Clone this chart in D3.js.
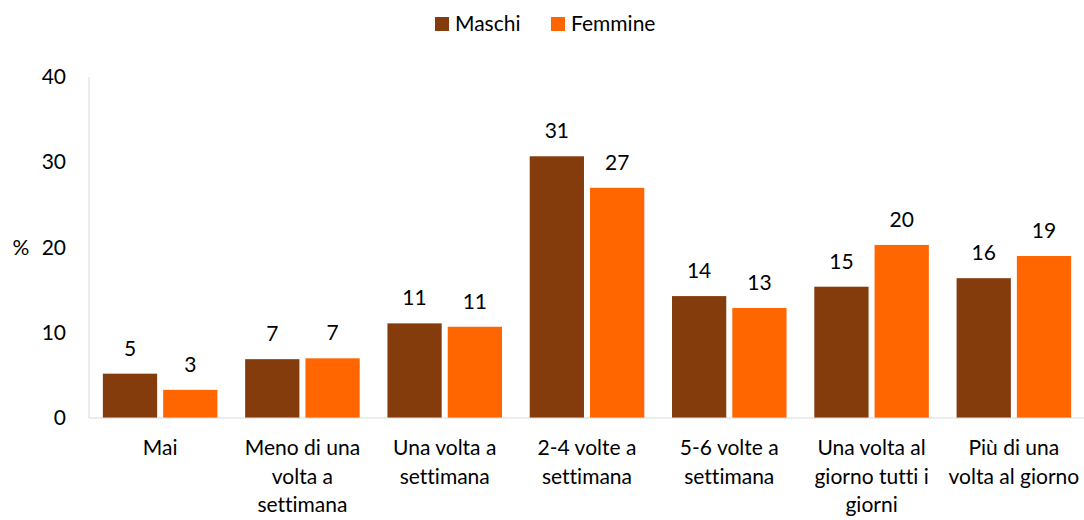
<!DOCTYPE html>
<html>
<head>
<meta charset="utf-8">
<script src="https://cdn.jsdelivr.net/npm/d3@7"></script>
<style>
body { margin: 0; background: #fff; }
text { font-family: Lato, "Open Sans", sans-serif; fill: #000; font-variant-ligatures: none; }
</style>
</head>
<body>
<div id="canvas"></div>
<script>

var categories = ["Mai",
                  "Meno di una\nvolta a\nsettimana",
                  "Una volta a\nsettimana",
                  "2-4 volte a\nsettimana",
                  "5-6 volte a\nsettimana",
                  "Una volta al\ngiorno tutti i\ngiorni",
                  "Più di una\nvolta al giorno"];
var series = ["Maschi", "Femmine"];
var maschi  = [5.2, 6.9, 11.1, 30.7, 14.3, 15.4, 16.4];
var femmine = [3.3, 7.0, 10.7, 27.0, 12.9, 20.3, 19.0];
var yTicks = [0, 10, 20, 30, 40];
var colors = ["#843c0c", "#ff6600"];

var width = 1084, height = 520;
var mLeft = 89, mRight = 1085, mTop = 77, mBottom = 418;
var fs = "21px";

var svg = d3.select("#canvas")
            .append("svg")
            .attr("width", width)
            .attr("height", height);

var x = d3.scaleBand().domain(categories).range([mLeft, mRight]);
var xs = d3.scaleBand().domain(series).range([0, x.bandwidth()])
           .paddingInner(0.1).paddingOuter(0.23);
var y = d3.scaleLinear().domain([0, 40]).range([mBottom, mTop]);

// axes lines
svg.append("line")
   .attr("x1", mLeft).attr("x2", mLeft)
   .attr("y1", y(40)).attr("y2", y(0))
   .style("stroke", "#d9d9d9").style("stroke-width", 1);

var yaxis = svg.append("g")
   .attr("transform", "translate(" + mLeft + ",0)")
   .call(d3.axisLeft(y).tickValues(yTicks).tickSize(0).tickPadding(23));
yaxis.select(".domain").remove();
yaxis.selectAll("text")
     .style("font-family", "Lato, sans-serif")
     .style("font-size", fs)
     .attr("fill", "#000");

svg.append("text")
   .attr("x", 21).attr("y", y(20))
   .attr("dy", "0.35em")
   .attr("text-anchor", "middle")
   .style("font-size", fs)
   .text("%");

var data = categories.map(function(c, i) {
   return [ {cat: c, s: series[0], v: maschi[i]},
            {cat: c, s: series[1], v: femmine[i]} ];
});

var groups = svg.selectAll("g.grp")
   .data(data)
   .enter()
   .append("g")
   .attr("class", "grp")
   .attr("transform", function(d) { return "translate(" + x(d[0].cat) + ",0)"; });

groups.selectAll("rect")
   .data(function(d) { return d; })
   .enter()
   .append("rect")
   .attr("x", function(d) { return xs(d.s); })
   .attr("width", xs.bandwidth())
   .attr("y", function(d) { return y(d.v); })
   .attr("height", function(d) { return y(0) - y(d.v); })
   .attr("fill", function(d, i) { return colors[i]; });

groups.selectAll("text.val")
   .data(function(d) { return d; })
   .enter()
   .append("text")
   .attr("class", "val")
   .attr("x", function(d) { return xs(d.s) + xs.bandwidth() / 2; })
   .attr("y", function(d) { return y(d.v) - 18; })
   .attr("text-anchor", "middle")
   .style("font-size", fs)
   .text(function(d) { return d3.format(".0f")(d.v); });

svg.append("line")
   .attr("x1", mLeft).attr("x2", mRight)
   .attr("y1", y(0)).attr("y2", y(0))
   .style("stroke", "#d9d9d9").style("stroke-width", 1);

// category labels
var xlab = svg.append("g").selectAll("text")
   .data(categories)
   .enter()
   .append("text")
   .attr("x", function(d) { return x(d) + x.bandwidth() / 2; })
   .attr("y", 455)
   .attr("text-anchor", "middle")
   .style("font-size", fs);
xlab.each(function(d) {
   var t = d3.select(this);
   d.split("\n").forEach(function(line, i) {
      t.append("tspan")
       .attr("x", t.attr("x"))
       .attr("dy", i == 0 ? 0 : 28.6)
       .text(line);
   });
});

// legend
var legend = svg.append("g").selectAll("g")
   .data(series)
   .enter()
   .append("g")
   .attr("transform", function(d, i) { return "translate(" + (435 + i * 116) + ",17)"; });
legend.append("rect")
   .attr("width", 14).attr("height", 14)
   .attr("fill", function(d, i) { return colors[i]; });
legend.append("text")
   .attr("x", 20).attr("y", 7)
   .attr("dy", "0.35em")
   .style("font-size", fs)
   .text(function(d) { return d; });

</script>
</body>
</html>
